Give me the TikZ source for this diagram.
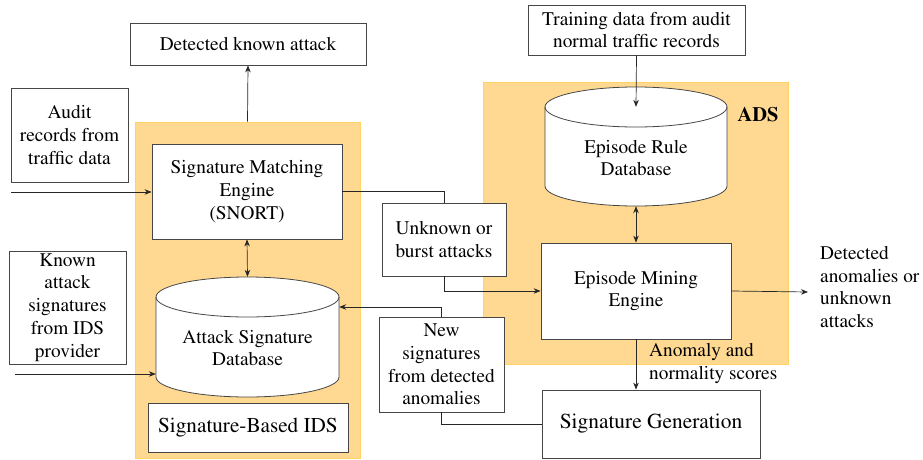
\documentclass[tikz,border=0pt]{standalone}
\usepackage[T1]{fontenc}
\usepackage{times}
\usetikzlibrary{arrows.meta}
\definecolor{panelfill}{RGB}{255,217,145}
\definecolor{panelline}{RGB}{255,212,100}
\definecolor{boxline}{RGB}{70,70,70}
\begin{document}
\begin{tikzpicture}[x=1pt,y=-1pt,
  font=\fontsize{19.3}{22.8}\selectfont,
  panel/.style={draw=panelline,fill=panelfill,line width=0.8pt,inner sep=0pt},
  wbox/.style={draw=boxline,fill=white,line width=0.8pt,inner sep=0pt,align=center},
  ghost/.style={inner sep=0pt},
  conn/.style={draw=black!85,line width=0.7pt},
  tip/.style={-{Stealth[length=7pt,width=5.5pt]}},
  dtip/.style={{Stealth[length=7pt,width=5.5pt]}-{Stealth[length=7pt,width=5.5pt]}},
  cyl/.style={draw=boxline,fill=white,line width=0.8pt}]
\useasboundingbox (0,0) rectangle (923,460);

% panels
\node[panel,minimum width=225,minimum height=336] (sigpanel) at (247.5,290) {};
\node[panel,minimum width=305,minimum height=282] (adspanel) at (635.5,223) {};
\node[ghost,font=\fontsize{20.5}{22}\selectfont\bfseries] (adslbl) at (758,115) {ADS};

% boxes
\node[wbox,minimum width=236,minimum height=42] (dka) at (248,44) {Detected known attack};
\node[wbox,minimum width=117,minimum height=94] (audit) at (69.5,135) {Audit\\records from\\traffic data};
\node[wbox,minimum width=190,minimum height=95] (sme) at (247,191.5) {Signature Matching\\Engine\\(SNORT)};
\node[wbox,minimum width=117,minimum height=113] (known) at (67.5,307.5) {Known\\attack\\signatures\\from IDS\\provider};
\node[wbox,minimum width=200,minimum height=49,font=\fontsize{21.2}{23}\selectfont] (sbids) at (248,427.5) {Signature-Based IDS};
\node[wbox,minimum width=124,minimum height=73] (unk) at (444,239.5) {Unknown or\\burst attacks};
\node[wbox,minimum width=125,minimum height=95] (ns) at (441.5,364.5) {New\\signatures\\from detected\\anomalies};
\node[wbox,minimum width=217,minimum height=50] (train) at (636.5,30) {Training data from audit\\normal traffic records};
\node[wbox,minimum width=190,minimum height=96] (eme) at (636,291) {Episode Mining\\Engine};
\node[wbox,minimum width=218,minimum height=68,font=\fontsize{21.4}{23}\selectfont] (sg) at (651,424) {Signature Generation};

% cylinders (Attack Signature Database)
\draw[cyl] (156,297) -- (156,377) arc[start angle=180,end angle=360,x radius=91.5pt,y radius=20pt]
  -- (339,297) arc[start angle=0,end angle=180,x radius=91.5pt,y radius=20pt] -- cycle;
\draw[cyl,fill=none] (156,297) arc[start angle=180,end angle=360,x radius=91.5pt,y radius=20pt];
\node[ghost,minimum width=183,minimum height=120] (asd) at (247.5,337) {};
\node[ghost,align=center] (asdlbl) at (247.5,348) {Attack Signature\\Database};

% Episode Rule Database
\draw[cyl] (545,107) -- (545,186) arc[start angle=180,end angle=360,x radius=91pt,y radius=20pt]
  -- (727,107) arc[start angle=0,end angle=180,x radius=91pt,y radius=20pt] -- cycle;
\draw[cyl,fill=none] (545,107) arc[start angle=180,end angle=360,x radius=91pt,y radius=20pt];
\node[ghost,minimum width=182,minimum height=119] (erd) at (636,146.5) {};
\node[ghost,align=center] (erdlbl) at (636,158) {Episode Rule\\Database};

% free labels
\node[ghost,align=left,anchor=north west] (detanom) at (820,246) {Detected\\anomalies or\\unknown\\attacks};
\node[ghost,align=left,anchor=north west] (scores) at (649,343) {Anomaly and\\normality scores};

% free ends
\coordinate (auditin) at (11,192);
\coordinate (knownin) at (15,374);
\coordinate (outend) at (808,292);

% connectors
\draw[conn,tip] (sigpanel.north) -- (dka.south);
\draw[conn,tip] (auditin) -- (auditin -| sme.west);
\draw[conn,dtip] (sme.south) -- (asd.north);
\draw[conn,tip] (knownin) -- (knownin -| asd.west);
\draw[conn] (sme.east) -| (unk.north);
\draw[conn,tip] (unk.south) |- (eme.west);
\draw[conn,tip] (ns.north) |- ([yshift=30pt]asd.east);
\draw[conn] (sg.west) -| (ns.south);
\draw[conn,tip] (train.south) -- ([yshift=-20pt]erd.north);
\draw[conn,dtip] (erd.south) -- (eme.north);
\draw[conn,tip] (eme.south) -- (eme.south |- sg.north);
\draw[conn,tip] (eme.east) -- (outend);
\end{tikzpicture}
\end{document}
